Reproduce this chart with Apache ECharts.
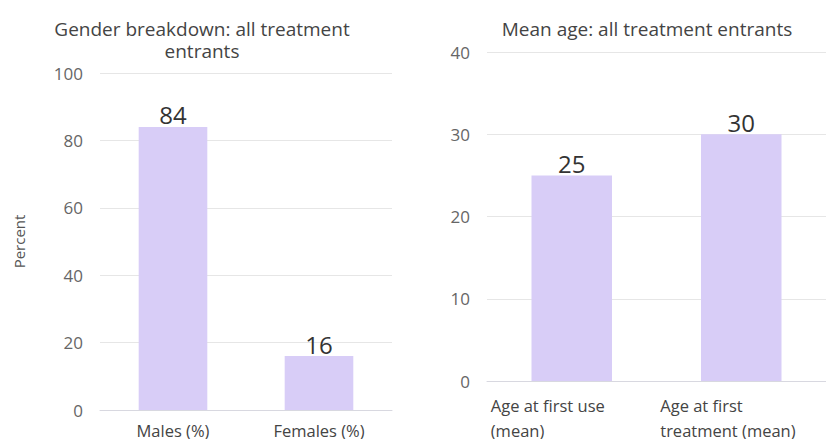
<!DOCTYPE html>
<html>
<head>
<meta charset="utf-8">
<script src="https://cdn.jsdelivr.net/npm/echarts@6/dist/echarts.min.js"></script>
<style>
  html, body { margin: 0; padding: 0; background: #fff; }
  #chart { width: 826px; height: 439px; }
</style>
</head>
<body>
<div id="chart"></div>
<script>
var genderCats = ['Males (%)', 'Females (%)'];
var genderVals = [84, 16];
var ageCats = ['Age at first use\n(mean)', 'Age at first\ntreatment (mean)'];
var ageVals = [25, 30];

var font = '"Open Sans", sans-serif';
var barColor = '#d8cdf7';
var grid = '#e6e6e6';
var tickColor = '#666';

var chart = echarts.init(document.getElementById('chart'), null, { renderer: 'svg' });

// wrapped labels on the right chart are left aligned inside a fixed-width box
function wrapLeft(val) {
  return val.split('\n').map(function(l) { return '{a|' + l + '}'; }).join('\n');
}

chart.setOption({
  animation: false,
  textStyle: { fontFamily: font },
  title: [
    {
      text: 'Gender breakdown: all treatment\nentrants',
      left: 197, top: 13, textAlign: 'center',
      textStyle: { fontFamily: font, fontSize: 19, fontWeight: 'normal', color: '#444', lineHeight: 22 }
    },
    {
      text: 'Mean age: all treatment entrants',
      left: 642, top: 13, textAlign: 'center',
      textStyle: { fontFamily: font, fontSize: 19, fontWeight: 'normal', color: '#444', lineHeight: 22 }
    }
  ],
  grid: [
    { left: 100, right: 434, top: 73, bottom: 28 },
    { left: 487, right: -10, top: 52, bottom: 54 }
  ],
  xAxis: [
    {
      type: 'category', gridIndex: 0, data: genderCats,
      axisTick: { show: false },
      axisLine: { lineStyle: { color: '#d8d8e0' } },
      axisLabel: { color: '#444', fontSize: 16.5, margin: 12, fontFamily: font, interval: 0 }
    },
    {
      type: 'category', gridIndex: 1, data: ageCats,
      axisTick: { show: false },
      axisLine: { lineStyle: { color: '#d8d8e0' } },
      axisLabel: {
        color: '#444', fontSize: 16.5, margin: 12, fontFamily: font, interval: 0,
        formatter: wrapLeft,
        rich: { a: { width: 162, align: 'left', fontSize: 16.5, color: '#444', fontFamily: font, lineHeight: 25 } }
      }
    }
  ],
  yAxis: [
    {
      type: 'value', gridIndex: 0, min: 0, max: 100, interval: 20,
      name: 'Percent', nameLocation: 'middle', nameGap: 74,
      nameTextStyle: { color: '#555', fontSize: 15, fontFamily: font },
      axisLabel: { color: tickColor, fontSize: 17, margin: 17, fontFamily: font },
      splitLine: { lineStyle: { color: grid } }
    },
    {
      type: 'value', gridIndex: 1, min: 0, max: 40, interval: 10,
      axisLabel: { color: tickColor, fontSize: 17, margin: 17, fontFamily: font },
      splitLine: { lineStyle: { color: grid } }
    }
  ],
  series: [
    {
      type: 'bar', xAxisIndex: 0, yAxisIndex: 0, data: genderVals,
      barWidth: '47%', itemStyle: { color: barColor },
      label: { show: true, position: 'top', distance: 0, fontSize: 24, color: '#333', fontFamily: font }
    },
    {
      type: 'bar', xAxisIndex: 1, yAxisIndex: 1, data: ageVals,
      barWidth: '47.5%', itemStyle: { color: barColor },
      label: { show: true, position: 'top', distance: 0, fontSize: 24, color: '#333', fontFamily: font }
    }
  ]
});
</script>
</body>
</html>
